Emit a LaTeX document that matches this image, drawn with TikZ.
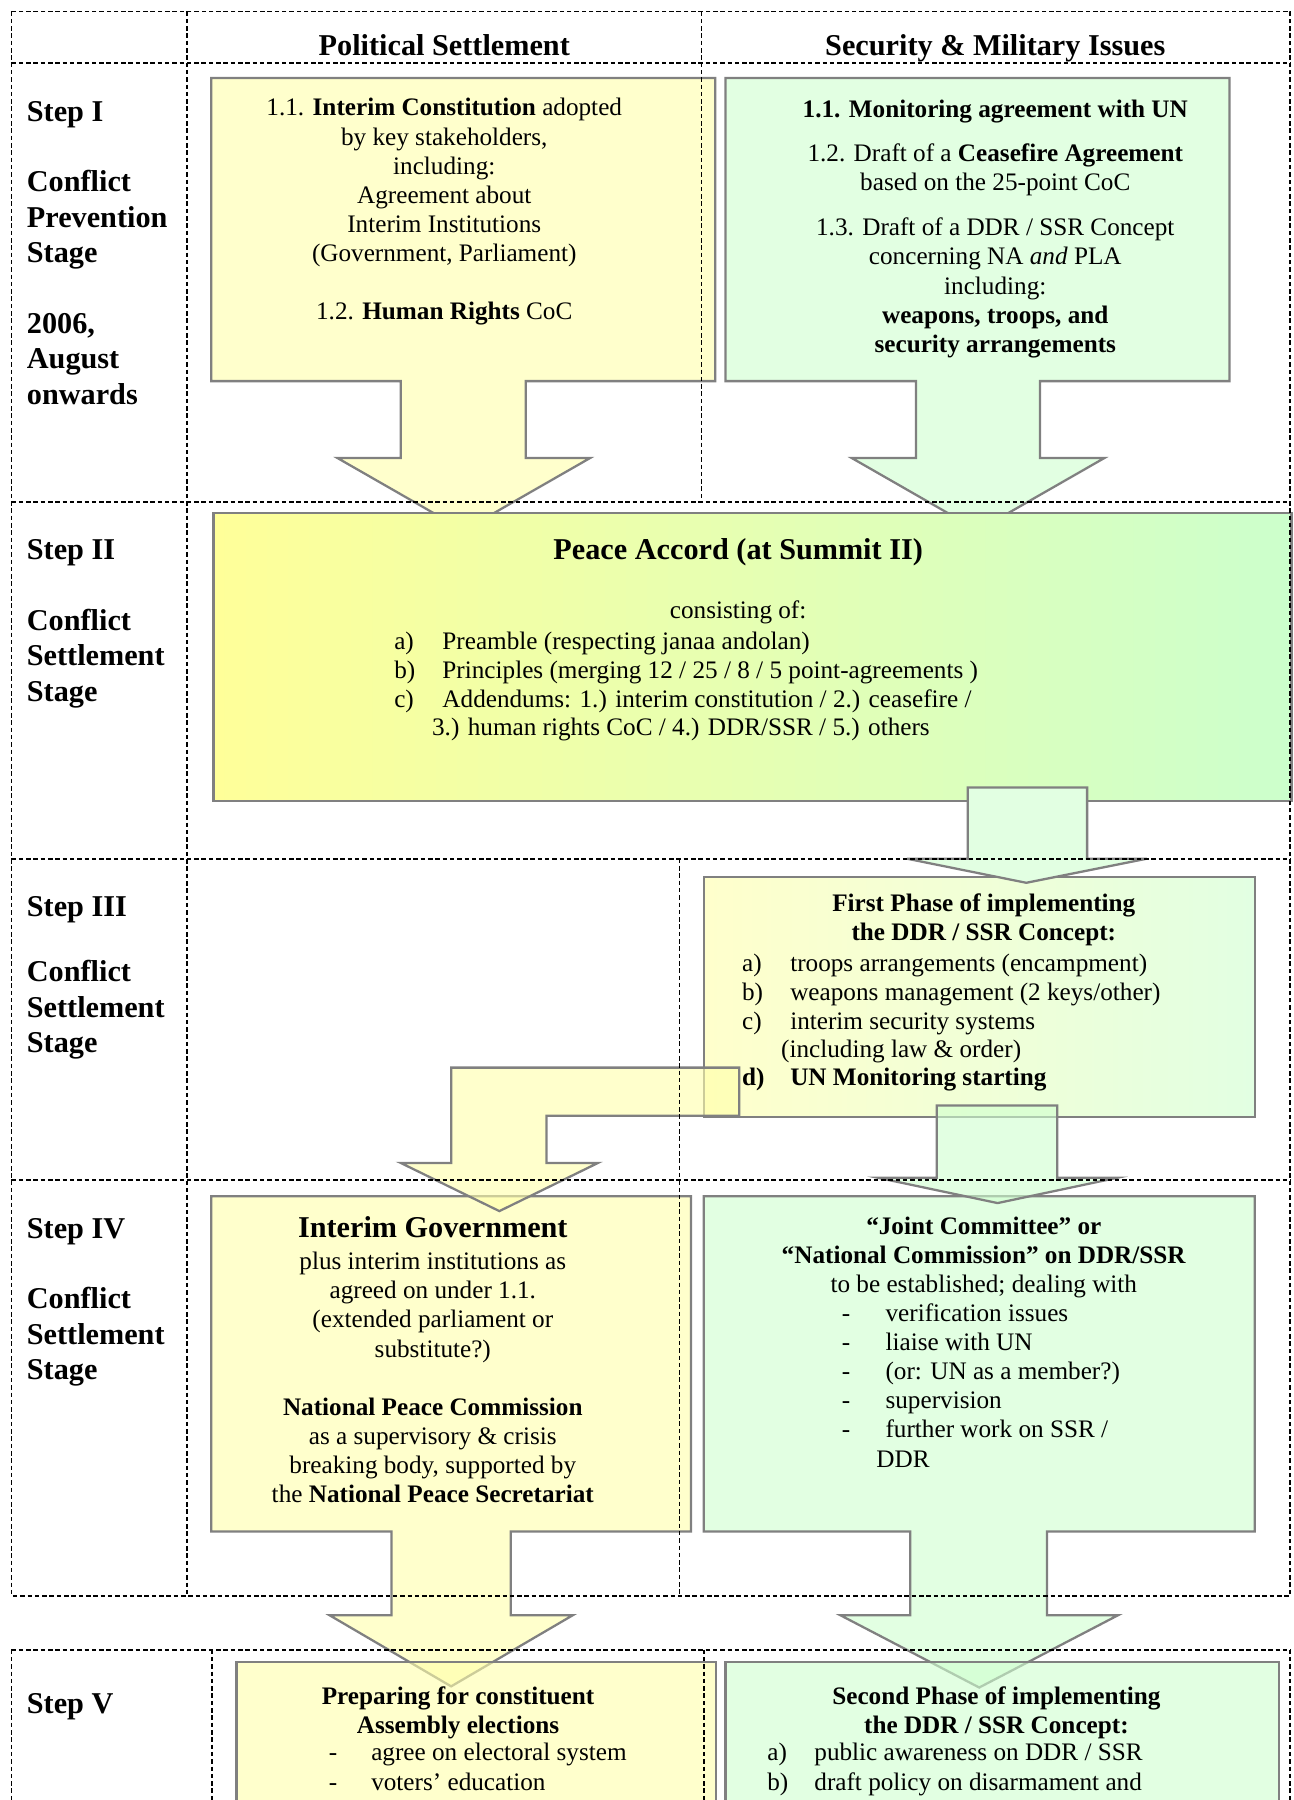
\documentclass[tikz,border=0pt]{standalone}
\usepackage{fontspec}
\setmainfont{Liberation Serif}
\definecolor{frame}{RGB}{128,128,128}
\definecolor{paleyellow}{RGB}{255,255,204}
\definecolor{palegreen}{RGB}{226,255,226}
\definecolor{accordyellow}{RGB}{255,255,153}
\definecolor{accordgreen}{RGB}{204,255,204}
\definecolor{glassyellow}{RGB}{255,255,170}
\definecolor{glassgreen}{RGB}{207,255,207}
\newcommand\blkstrut{\rule{0pt}{11pt}}
\begin{document}
\begin{tikzpicture}[x=0.4556pt, y=-0.4556pt,
  boxline/.style={draw=frame, line width=0.9pt, line join=miter},
  glass/.style={boxline, fill opacity=0.6},
  gridline/.style={line width=0.7pt, dash pattern=on 1.8pt off 1.1pt},
  hdr/.style={font=\fontsize{12}{14.05}\selectfont\bfseries, inner sep=0pt, anchor=base},
  steplabel/.style={font=\fontsize{12}{14.05}\selectfont\bfseries, align=left, anchor=north west, inner sep=0pt, yshift=11pt},
  blk/.style={font=\fontsize{10}{11.57}\selectfont, align=center, anchor=north, inner sep=0pt, yshift=11pt},
  bblk/.style={blk, font=\fontsize{10}{11.57}\selectfont\bfseries},
  lblk/.style={font=\fontsize{10}{11.57}\selectfont, align=left, anchor=north west, inner sep=0pt, yshift=11pt},
  ln/.style={font=\fontsize{10}{11.57}\selectfont, inner sep=0pt, anchor=base west},
]
\useasboundingbox (0,0) rectangle (1127,1568);
\fill[white] (0,0) rectangle (1127,1568);
\clip (0,0) rectangle (1127,1568);

% ---- Step I: callout boxes with down arrows
\filldraw[boxline, fill=paleyellow] (184,68) -- (623,68) -- (623,332) -- (458,332) -- (458,399) -- (514,399) -- (404,462) -- (294,399) -- (349,399) -- (349,332) -- (184,332) -- cycle;
\filldraw[boxline, fill=palegreen] (632,68) -- (1071,68) -- (1071,332) -- (906,332) -- (906,399) -- (962,399) -- (852,462) -- (742,399) -- (798,399) -- (798,332) -- (632,332) -- cycle;

% ---- Step II: peace accord
\draw[boxline, left color=accordyellow, right color=accordgreen] (186,447) rectangle (1125,698);

% ---- Step III: first phase box
\draw[boxline, left color=paleyellow, right color=palegreen] (613,764) rectangle (1093,973);

% arrow from the peace accord into the first phase
\filldraw[boxline, fill=palegreen] (843,686) -- (947,686) -- (947,748) -- (999,748) -- (894,769) -- (790,748) -- (843,748) -- cycle;

% ---- Step IV: callout boxes
\filldraw[boxline, fill=paleyellow] (184,1042) -- (602,1042) -- (602,1334) -- (445,1334) -- (445,1407) -- (499,1407) -- (393,1469) -- (287,1407) -- (341,1407) -- (341,1334) -- (184,1334) -- cycle;
\filldraw[boxline, fill=palegreen] (613,1042) -- (1093,1042) -- (1093,1334) -- (912,1334) -- (912,1407) -- (974,1407) -- (853,1470) -- (732,1407) -- (793,1407) -- (793,1334) -- (613,1334) -- cycle;

% translucent arrows out of the first phase
\filldraw[glass, fill=glassgreen] (816,963) -- (921,963) -- (921,1026) -- (973,1026) -- (869,1048) -- (765,1026) -- (816,1026) -- cycle;
\filldraw[glass, fill=glassyellow] (644,930) -- (393,930) -- (393,1013) -- (349,1013) -- (435,1055) -- (521,1013) -- (476,1013) -- (476,972) -- (644,972) -- cycle;

% ---- Step V boxes (translucent over the arrow heads)
\filldraw[glass, fill=glassyellow] (206,1448) rectangle (624,1620);
\filldraw[glass, fill=glassgreen] (632,1448) rectangle (1114,1620);

% ---- table grid
\draw[gridline] (10,10) rectangle (1124,1390);
\draw[gridline] (10,55) -- (1124,55);
\draw[gridline] (10,437) -- (1124,437);
\draw[gridline] (10,748) -- (1124,748);
\draw[gridline] (10,1028) -- (1124,1028);
\draw[gridline] (163,10) -- (163,1390);
\draw[gridline] (611,10) -- (611,437);
\draw[gridline] (592,748) -- (592,1390);
\draw[gridline] (10,1437) -- (1124,1437);
\draw[gridline] (10,1437) -- (10,1620);
\draw[gridline] (185,1437) -- (185,1620);
\draw[gridline] (613,1437) -- (613,1620);
\draw[gridline] (1124,1437) -- (1124,1620);

% ---- column headers
\node[hdr] (hpol) at (387,48) {Political Settlement};
\node[hdr] (hsec) at (867,48) {Security \& Military Issues};

% ---- step labels
\node[steplabel] (lab1) at (23,105) {\blkstrut Step I\\[14.05pt]Conflict\\Prevention\\Stage\\[14.05pt]2006,\\August\\onwards};
\node[steplabel] (lab2) at (23,487) {\blkstrut Step II\\[14.05pt]Conflict\\Settlement\\Stage};
\node[steplabel] (lab3) at (23,798) {\blkstrut Step III\\[11.9pt]Conflict\\Settlement\\Stage};
\node[steplabel] (lab4) at (23,1078) {\blkstrut Step IV\\[14.05pt]Conflict\\Settlement\\Stage};
\node[steplabel] (lab5) at (23,1492) {\blkstrut Step V};

% ---- Step I texts
\node[blk] (pol1) at (387,100.5) {\blkstrut 1.1. \textbf{Interim Constitution} adopted\\by key stakeholders,\\including:\\Agreement about\\Interim Institutions\\(Government, Parliament)\\[11.57pt]1.2. \textbf{Human Rights} CoC};
\node[blk] (sec1) at (867,101.5) {\blkstrut\textbf{1.1. Monitoring agreement with UN}\\[6.2pt]1.2. Draft of a \textbf{Ceasefire Agreement}\\based on the 25-point CoC\\[6.2pt]1.3. Draft of a DDR / SSR Concept\\concerning NA \textit{and} PLA\\including:\\\textbf{weapons, troops, and}\\\textbf{security arrangements}};

% ---- Step II texts
\node[hdr] (accord) at (643,487) {Peace Accord (at Summit II)};
\node[ln, anchor=base] (accordcons) at (643,539) {consisting of:};
\node[lblk] (accordlbl) at (343,565.5) {\blkstrut a)\\b)\\c)};
\node[lblk] (accordtxt) at (385,565.5) {\blkstrut Preamble (respecting janaa andolan)\\Principles (merging 12 / 25 / 8 / 5 point-agreements )\\Addendums: 1.) interim constitution / 2.) ceasefire /};
\node[ln] (accordcont) at (376,641) {3.) human rights CoC / 4.) DDR/SSR / 5.) others};

% ---- Step III texts
\node[bblk] (phase1) at (857,793.5) {\blkstrut First Phase of implementing\\the DDR / SSR Concept:};
\node[lblk] (phase1lbl) at (646,845.5) {\blkstrut a)\\b)\\c)};
\node[lblk] (phase1txt) at (688,845.5) {\blkstrut troops arrangements (encampment)\\weapons management (2 keys/other)\\interim security systems};
\node[ln] (phase1cont) at (680,921) {(including law \& order)};
\node[ln, font=\fontsize{10}{11.57}\selectfont\bfseries] (phase1d) at (646,946) {d)};
\node[ln, font=\fontsize{10}{11.57}\selectfont\bfseries] (phase1dtxt) at (688,946) {UN Monitoring starting};

% ---- Step IV texts
\node[hdr] (igov) at (377,1078) {Interim Government};
\node[blk] (igovtxt) at (377,1105.5) {\blkstrut plus interim institutions as\\agreed on under 1.1.\\(extended parliament or\\substitute?)\\[11.57pt]\textbf{National Peace Commission}\\as a supervisory \& crisis\\breaking body, supported by\\the \textbf{National Peace Secretariat}};
\node[blk] (joint) at (857,1074.5) {\blkstrut\textbf{“Joint Committee” or}\\\textbf{“National Commission” on DDR/SSR}\\to be established; dealing with};
\node[lblk] (jointlbl) at (733,1150.5) {\blkstrut -\\-\\-\\-\\-};
\node[lblk] (jointtxt) at (771,1150.5) {\blkstrut verification issues\\liaise with UN\\(or: UN as a member?)\\supervision\\further work on SSR /};
\node[ln] (jointcont) at (763,1278.5) {DDR};

% ---- Step V texts
\node[bblk] (elect) at (399,1484.5) {\blkstrut Preparing for constituent\\Assembly elections};
\node[lblk] (electlbl) at (286,1533.5) {\blkstrut -\\-};
\node[lblk] (electtxt) at (323,1533.5) {\blkstrut agree on electoral system\\voters’ education};
\node[bblk] (phase2) at (868,1484.5) {\blkstrut Second Phase of implementing\\the DDR / SSR Concept:};
\node[lblk] (phase2lbl) at (668,1533.5) {\blkstrut a)\\b)};
\node[lblk] (phase2txt) at (709,1533.5) {\blkstrut public awareness on DDR / SSR\\draft policy on disarmament and};
\end{tikzpicture}
\end{document}
